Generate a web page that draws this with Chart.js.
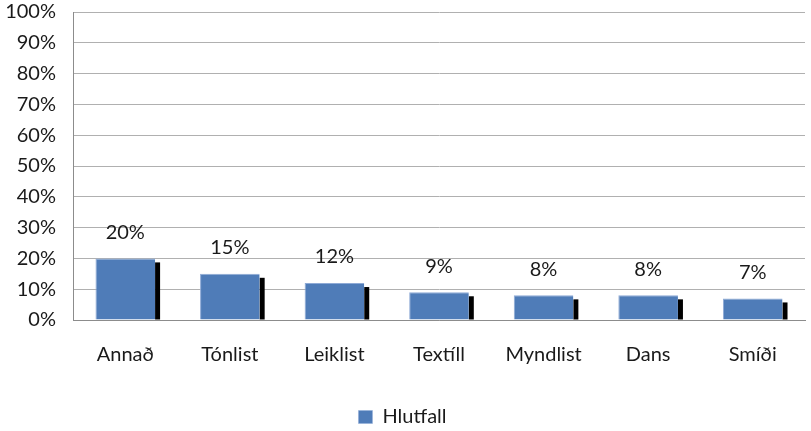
<!DOCTYPE html>
<html>
<head>
<meta charset="utf-8">
<script src="https://cdn.jsdelivr.net/npm/chart.js@4/dist/chart.umd.min.js"></script>
<style>
  html, body { margin: 0; padding: 0; background: #ffffff; }
  #wrap { width: 811px; height: 431px; }
</style>
</head>
<body>
<div id="wrap"><canvas id="chart" width="811" height="431"></canvas></div>
<script>
// Share of respondents per art form
const categories = ['Annað', 'Tónlist', 'Leiklist', 'Textíll', 'Myndlist', 'Dans', 'Smíði'];
const hlutfall = [20, 15, 12, 9, 8, 8, 7];
const seriesName = 'Hlutfall';

const FONT = 'Lato, "Open Sans", sans-serif';

// Flat black drop shadow to the lower right of each bar
const barShadow = {
  id: 'barShadow',
  beforeDatasetDraw(chart, args) {
    const meta = args.meta;
    const ctx = chart.ctx;
    const area = chart.chartArea;
    ctx.save();
    ctx.fillStyle = '#000000';
    meta.data.forEach(bar => {
      const right = bar.x + bar.width / 2;
      const top = bar.y + 4;
      const bottom = Math.min(bar.base, area.bottom);
      ctx.fillRect(right, top, 5, bottom - top);
    });
    ctx.restore();
  }
};

// Percentage labels above the bars
const valueLabels = {
  id: 'valueLabels',
  afterDatasetsDraw(chart) {
    const ctx = chart.ctx;
    const meta = chart.getDatasetMeta(0);
    const values = chart.data.datasets[0].data;
    ctx.save();
    ctx.font = '20px ' + FONT;
    ctx.fillStyle = '#1a1a1a';
    ctx.textAlign = 'center';
    ctx.textBaseline = 'middle';
    meta.data.forEach((bar, i) => {
      ctx.fillText(values[i] + '%', bar.x, bar.y - 26);
    });
    ctx.restore();
  }
};

new Chart(document.getElementById('chart'), {
  type: 'bar',
  data: {
    labels: categories,
    datasets: [{
      label: seriesName,
      data: hlutfall,
      backgroundColor: '#4f7cb8',
      borderColor: '#8eaad6',
      borderWidth: { top: 1, left: 1, right: 0, bottom: 0 },
      categoryPercentage: 1,
      barPercentage: 0.57
    }]
  },
  options: {
    responsive: false,
    animation: false,
    devicePixelRatio: 1,
    layout: { padding: { top: 12, right: 6, bottom: -6, left: 0 } },
    plugins: {
      legend: {
        position: 'bottom',
        labels: {
          font: { family: FONT, size: 20 },
          color: '#1a1a1a',
          boxWidth: 14,
          boxHeight: 13,
          padding: 10
        }
      },
      tooltip: { enabled: false }
    },
    scales: {
      x: {
        grid: { display: false, drawTicks: false },
        border: { color: '#8c8c8c', width: 1 },
        ticks: {
          font: { family: FONT, size: 20 },
          color: '#1a1a1a',
          padding: 23
        },
        afterFit(scale) { scale.height = 77; }
      },
      y: {
        min: 0,
        max: 100,
        grid: { color: '#b0b0b0', drawTicks: false },
        border: { color: '#8c8c8c', width: 1 },
        ticks: {
          stepSize: 10,
          font: { family: FONT, size: 20 },
          color: '#1a1a1a',
          padding: 17,
          callback: v => v + '%'
        },
        afterFit(scale) {
          scale.width = 73;
          scale.paddingTop = 0;
        }
      }
    }
  },
  plugins: [barShadow, valueLabels]
});
</script>
</body>
</html>
